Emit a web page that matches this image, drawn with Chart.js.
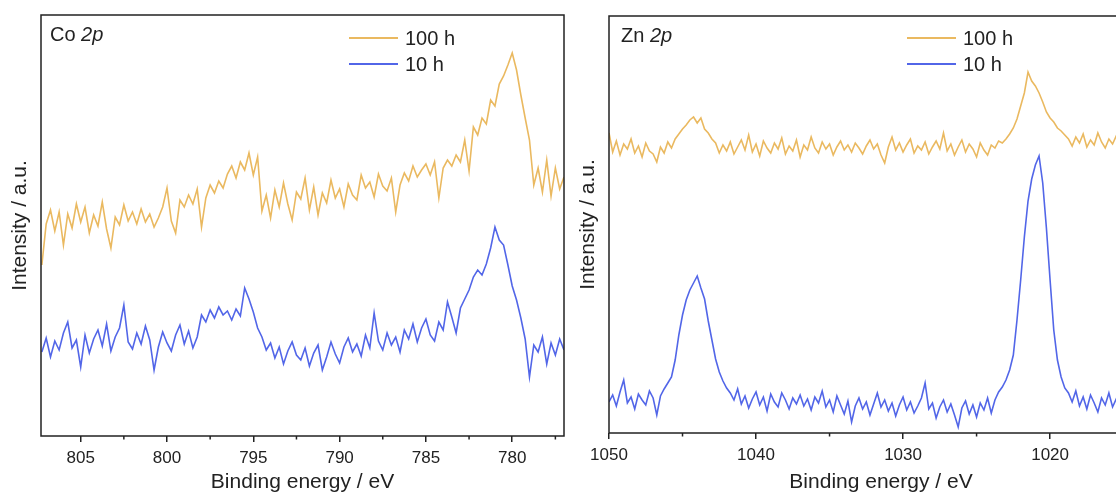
<!DOCTYPE html>
<html>
<head>
<meta charset="utf-8">
<script src="https://cdn.jsdelivr.net/npm/chart.js@4/dist/chart.umd.min.js"></script>
<style>
  html, body { margin: 0; padding: 0; background: #fff; overflow: hidden; width: 1116px; height: 497px; }
  .panel { position: absolute; top: 0; height: 497px; }
  #coPanel { left: 0; width: 580px; }
  #znPanel { left: 570px; width: 600px; }
</style>
</head>
<body>
<div class="panel" id="coPanel"><canvas id="coChart"></canvas></div>
<div class="panel" id="znPanel"><canvas id="znChart"></canvas></div>
<script>
// Co 2p panel (binding energy in eV, intensity in arbitrary units)
const coEnergy = [
  807.25, 807, 806.75, 806.5, 806.25, 806, 805.75, 805.5, 805.25, 805,
  804.75, 804.5, 804.25, 804, 803.75, 803.5, 803.25, 803, 802.75, 802.5,
  802.25, 802, 801.75, 801.5, 801.25, 801, 800.75, 800.5, 800.25, 800,
  799.75, 799.5, 799.25, 799, 798.75, 798.5, 798.25, 798, 797.75, 797.5,
  797.25, 797, 796.75, 796.5, 796.25, 796, 795.75, 795.5, 795.25, 795,
  794.75, 794.5, 794.25, 794, 793.75, 793.5, 793.25, 793, 792.75, 792.5,
  792.25, 792, 791.75, 791.5, 791.25, 791, 790.75, 790.5, 790.25, 790,
  789.75, 789.5, 789.25, 789, 788.75, 788.5, 788.25, 788, 787.75, 787.5,
  787.25, 787, 786.75, 786.5, 786.25, 786, 785.75, 785.5, 785.25, 785,
  784.75, 784.5, 784.25, 784, 783.75, 783.5, 783.25, 783, 782.75, 782.5,
  782.25, 782, 781.75, 781.5, 781.25, 781, 780.75, 780.5, 780.25, 780,
  779.75, 779.5, 779.25, 779, 778.75, 778.5, 778.25, 778, 777.75, 777.5,
  777.25, 777
];
const co100h = [
  171, 212, 226, 205, 224, 191, 222, 208, 232, 214,
  229, 203, 221, 210, 234, 207, 188, 219, 211, 231,
  215, 224, 212, 227, 214, 222, 209, 218, 229, 248,
  215, 203, 236, 229, 241, 232, 247, 209, 238, 251,
  243, 255, 248, 262, 270, 258, 274, 266, 283, 261,
  279, 225, 241, 218, 246, 229, 253, 232, 216, 244,
  237, 258, 226, 249, 221, 243, 233, 256, 238, 247,
  229, 252, 241, 236, 261, 248, 254, 239, 262, 250,
  245, 258, 224, 251, 263, 255, 270, 259, 266, 272,
  261, 274, 238, 268, 276, 270, 281, 274, 296, 265,
  309, 301, 318, 312, 336, 330, 352, 360, 371, 383,
  366, 341, 318, 296, 251, 268, 244, 276, 240, 268,
  247, 259
];
const co10h = [
  84, 98, 79, 95, 86, 103, 114, 88, 96, 69,
  101, 83, 97, 106, 90, 112, 85, 99, 108, 131,
  94, 87, 103, 92, 110, 96, 66, 89, 104, 93,
  85, 101, 111, 92, 105, 88, 99, 121, 114, 126,
  118, 129, 121, 125, 116, 127, 120, 148, 137, 124,
  108, 99, 86, 93, 78, 89, 72, 85, 94, 81,
  76, 88, 70, 83, 91, 66, 79, 94, 82, 73,
  89, 98, 84, 92, 80, 101, 88, 123, 95, 86,
  103, 91, 99, 84, 106, 97, 112, 94, 108, 117,
  101, 95, 114, 106, 134, 119, 103, 128, 137, 146,
  159, 166, 161, 172, 188, 209, 196, 191, 171, 150,
  136, 118, 97, 59, 91, 84, 99, 72, 93, 81,
  97, 86
];
const coMajorTicks = [805, 800, 795, 790, 785, 780];
const coMinorTicks = [802.5, 797.5, 792.5, 787.5, 782.5, 777.5];

// Zn 2p panel
const znEnergy = [
  1050, 1049.75, 1049.5, 1049.25, 1049, 1048.75, 1048.5, 1048.25, 1048, 1047.75,
  1047.5, 1047.25, 1047, 1046.75, 1046.5, 1046.25, 1046, 1045.75, 1045.5, 1045.25,
  1045, 1044.75, 1044.5, 1044.25, 1044, 1043.75, 1043.5, 1043.25, 1043, 1042.75,
  1042.5, 1042.25, 1042, 1041.75, 1041.5, 1041.25, 1041, 1040.75, 1040.5, 1040.25,
  1040, 1039.75, 1039.5, 1039.25, 1039, 1038.75, 1038.5, 1038.25, 1038, 1037.75,
  1037.5, 1037.25, 1037, 1036.75, 1036.5, 1036.25, 1036, 1035.75, 1035.5, 1035.25,
  1035, 1034.75, 1034.5, 1034.25, 1034, 1033.75, 1033.5, 1033.25, 1033, 1032.75,
  1032.5, 1032.25, 1032, 1031.75, 1031.5, 1031.25, 1031, 1030.75, 1030.5, 1030.25,
  1030, 1029.75, 1029.5, 1029.25, 1029, 1028.75, 1028.5, 1028.25, 1028, 1027.75,
  1027.5, 1027.25, 1027, 1026.75, 1026.5, 1026.25, 1026, 1025.75, 1025.5, 1025.25,
  1025, 1024.75, 1024.5, 1024.25, 1024, 1023.75, 1023.5, 1023.25, 1023, 1022.75,
  1022.5, 1022.25, 1022, 1021.75, 1021.5, 1021.25, 1021, 1020.75, 1020.5, 1020.25,
  1020, 1019.75, 1019.5, 1019.25, 1019, 1018.75, 1018.5, 1018.25, 1018, 1017.75,
  1017.5, 1017.25, 1017, 1016.75, 1016.5, 1016.25, 1016, 1015.75, 1015.5, 1015.25,
  1015
];
const zn100h = [
  300, 281, 292, 278, 289, 284, 294, 280, 287, 276,
  290, 282, 279, 271, 286, 280, 291, 285, 294, 299,
  304, 308, 313, 316, 310, 315, 304, 300, 294, 290,
  280, 288, 282, 291, 279, 286, 293, 283, 298, 281,
  289, 277, 292, 285, 280, 290, 284, 295, 279, 287,
  282, 293, 276, 288, 283, 296, 285, 280, 291, 284,
  289, 278, 286, 292, 283, 288, 281, 290, 285, 279,
  287, 293, 284, 289, 278, 270, 286, 296, 283, 290,
  281, 288, 294, 280, 287, 283, 291, 279, 286, 292,
  284, 300, 282, 289, 278, 286, 293, 281, 289, 284,
  276, 290, 283, 278, 288, 285, 292, 290, 294, 299,
  305, 314, 327, 340, 361, 352, 347, 340, 331, 321,
  315, 311, 305, 302, 298, 294, 287, 296, 290, 299,
  286, 293, 288, 300, 291, 285, 294, 289, 297, 286,
  292
];
const zn10h = [
  31, 38, 27, 41, 53, 30, 36, 24, 39, 33,
  28, 42, 35, 18, 37, 44, 50, 56, 73, 98,
  118, 133, 143, 150, 157, 145, 134, 112, 93, 74,
  61, 52, 45, 40, 33, 44, 29, 37, 25, 34,
  41, 28, 36, 22, 39, 31, 26, 40, 33, 24,
  35, 29, 38, 27, 34, 23, 36, 30, 42, 26,
  33, 21, 37, 28, 19, 32, 11, 27, 35, 24,
  31, 18, 29, 40, 26, 33, 22, 30, 17, 28,
  36, 23, 31, 20, 27, 35, 50, 24, 30, 15,
  26, 33, 21, 29, 18, 6, 25, 32, 19, 28,
  16, 30, 23, 35, 20, 33, 41, 46, 53, 63,
  78, 113, 153, 196, 232, 254, 268, 277, 250, 205,
  153, 103, 73, 56, 45, 40, 31, 42, 27, 36,
  24, 38, 30, 21, 35, 28, 40, 26, 34, 23,
  37
];
const znMajorTicks = [1050, 1040, 1030, 1020];
const znMinorTicks = [1045, 1035, 1025, 1015];

const seriesLabels = ["100 h", "10 h"];
const seriesColors = ["rgb(234,185,96)", "rgb(82,102,232)"];

const fontFamily = "'Liberation Sans', Arial, sans-serif";
const inkColor = "#222";
Chart.defaults.font.family = fontFamily;
Chart.defaults.color = inkColor;

// frame, minor ticks, panel label and in-plot legend
const panelDecor = {
  id: "panelDecor",
  afterDraw(chart, args, opts) {
    const { ctx, chartArea: a } = chart;
    const x = chart.scales.x;
    ctx.save();
    ctx.strokeStyle = inkColor;
    ctx.lineWidth = 1.5;
    ctx.strokeRect(a.left, a.top, a.right - a.left, a.bottom - a.top);

    opts.minorTicks.forEach((v) => {
      const px = x.getPixelForValue(v);
      ctx.beginPath();
      ctx.moveTo(px, a.bottom);
      ctx.lineTo(px, a.bottom + 3.5);
      ctx.stroke();
    });

    ctx.fillStyle = inkColor;
    ctx.textBaseline = "middle";
    ctx.font = "20px " + fontFamily;
    const lx = a.left + opts.labelDx;
    ctx.fillText(opts.element + " ", lx, opts.labelY);
    const w = ctx.measureText(opts.element + " ").width;
    ctx.font = "italic 20px " + fontFamily;
    ctx.fillText("2p", lx + w, opts.labelY);

    ctx.font = "20px " + fontFamily;
    chart.data.datasets.forEach((ds, i) => {
      const y = opts.legendY[i];
      const x0 = a.left + opts.legendDx;
      ctx.strokeStyle = ds.borderColor;
      ctx.lineWidth = 2;
      ctx.beginPath();
      ctx.moveTo(x0, y);
      ctx.lineTo(x0 + 49, y);
      ctx.stroke();
      ctx.fillStyle = inkColor;
      ctx.fillText(ds.label, x0 + 56, y + 1);
    });
    ctx.restore();
  },
};

function makeChart(canvasId, energy, series, cfg) {
  const datasets = series.map((values, i) => ({
    label: seriesLabels[i],
    data: energy.map((e, k) => ({ x: e, y: values[k] })),
    borderColor: seriesColors[i],
    borderWidth: 1.6,
    pointRadius: 0,
    tension: 0,
  }));

  return new Chart(document.getElementById(canvasId), {
    type: "line",
    data: { datasets: datasets },
    options: {
      responsive: true,
      maintainAspectRatio: false,
      animation: false,
      layout: { padding: cfg.padding },
      plugins: {
        legend: { display: false },
        tooltip: { enabled: false },
        panelDecor: {
          minorTicks: cfg.minorTicks,
          element: cfg.element,
          labelDx: cfg.labelDx,
          labelY: cfg.labelY,
          legendDx: cfg.legendDx,
          legendY: cfg.legendY,
        },
      },
      scales: {
        x: {
          type: "linear",
          reverse: true,
          min: cfg.xMin,
          max: cfg.xMax,
          afterBuildTicks: (s) => {
            s.ticks = cfg.majorTicks.map((v) => ({ value: v }));
          },
          afterFit: (s) => {
            s.height = cfg.xAxisHeight;
          },
          grid: {
            display: true,
            drawOnChartArea: false,
            tickLength: 6,
            color: inkColor,
            lineWidth: 1.5,
          },
          border: { display: false },
          ticks: {
            font: { size: 17 },
            color: inkColor,
            padding: 6,
            maxRotation: 0,
            autoSkip: false,
            callback: (v) => String(v),
          },
          title: {
            display: true,
            text: "Binding energy / eV",
            font: { size: 21 },
            color: inkColor,
            padding: { top: 0, bottom: 2 },
          },
        },
        y: {
          min: 0,
          max: cfg.yMax,
          afterFit: (s) => {
            s.width = 37;
          },
          grid: { display: false },
          border: { display: false },
          ticks: { display: false },
          title: {
            display: true,
            text: "Intensity / a.u.",
            font: { size: 21 },
            color: inkColor,
            padding: { top: 4, bottom: 4 },
          },
        },
      },
    },
    plugins: [panelDecor],
  });
}

makeChart("coChart", coEnergy, [co100h, co10h], {
  element: "Co",
  xMin: 777,
  xMax: 807.3,
  yMax: 421,
  majorTicks: coMajorTicks,
  minorTicks: coMinorTicks,
  padding: { left: 4, top: 15, right: 16, bottom: 0 },
  xAxisHeight: 61,
  labelDx: 9,
  labelY: 35,
  legendDx: 308,
  legendY: [38, 64],
});

makeChart("znChart", znEnergy, [zn100h, zn10h], {
  element: "Zn",
  xMin: 1013,
  xMax: 1050,
  yMax: 417,
  majorTicks: znMajorTicks,
  minorTicks: znMinorTicks,
  padding: { left: 2, top: 16, right: 17, bottom: 0 },
  xAxisHeight: 64,
  labelDx: 12,
  labelY: 36,
  legendDx: 298,
  legendY: [38, 64],
});
</script>
</body>
</html>
